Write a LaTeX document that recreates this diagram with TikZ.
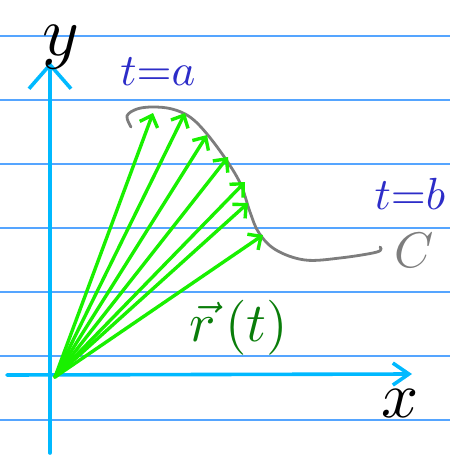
\documentclass[tikz,border=0pt]{standalone}
\usepackage{amsmath}
\usepackage{graphicx}
\usepackage{tikz}
\usetikzlibrary{arrows.meta}

\definecolor{rulecol}{RGB}{85,165,255}
\definecolor{axiscol}{RGB}{0,185,255}
\definecolor{veccol}{RGB}{25,240,0}
\definecolor{tcol}{RGB}{45,45,200}
\definecolor{rcol}{RGB}{10,125,10}
\definecolor{curvecol}{RGB}{125,125,125}

\tikzset{
  ruled/.style={rulecol, line width=1.4pt},
  axisline/.style={axiscol, line width=3.6pt, line cap=round},
  posvec/.style={veccol, line width=3.4pt, line cap=round,
    -{Straight Barb[length=10pt,width=19pt,line width=3.4pt]}},
  lbl/.style={inner sep=0pt}
}

\begin{document}
\begin{tikzpicture}[x=1pt, y=-1pt]
        \useasboundingbox (0,0) rectangle (450,457);
        % ruled paper
        \foreach \ry in {36,100,164,228,292,356,420}
            \draw [ruled] (0,\ry) -- (450,\ry);

        % axes
        \coordinate (ybot) at (50,453);
        \coordinate (ytop) at (50,62);
        \coordinate (xleft) at (7,375);
        \coordinate (xright) at (412,374);
        \draw [axisline, -{Straight Barb[length=24pt,width=42pt,line width=3.6pt]}] (ybot) -- (ytop);
        \draw [axisline, -{Straight Barb[length=16pt,width=22pt,line width=3.6pt]}] (xleft) -- (xright);

        % the curve C
        \draw [curvecol, line width=2.8pt, line cap=round] plot [smooth, tension=0.6] coordinates {
            (131,127) (127,116) (137,109) (153,107) (172,109) (190,117) (207,134)
            (227,161) (241,185) (250,212) (259,233) (276,250) (305,260) (340,258)
            (377,252) (380,247)};

        % position vectors
        \coordinate (O) at (55,377);
        \foreach \tx/\ty [count=\i] in {153/113, 185/113, 207/135, 228/157, 245/182, 248/203, 263/235} {
            \coordinate (tip\i) at (\tx,\ty);
            \draw [posvec] (O) -- (tip\i);
        }

        % labels
        \node (ylab) [lbl] at (61,47) {\scalebox{7}{$y$}};
        \node (xlab) [lbl] at (400,404) {\scalebox{6.5}{$x$}};
        \node (ta) [lbl, tcol] at (158,72) {\scalebox{4.5}{$t{=}a$}};
        \node (tb) [lbl, tcol] at (410,194) {\scalebox{4.5}{$t{=}b$}};
        \node (clab) [lbl, curvecol] at (414,250) {\scalebox{5}{$C$}};
        \node (rlab) [lbl, rcol] at (239,328) {\scalebox{5.5}{$\vec{r}\,(t)$}};
    \end{tikzpicture}
\end{document}
